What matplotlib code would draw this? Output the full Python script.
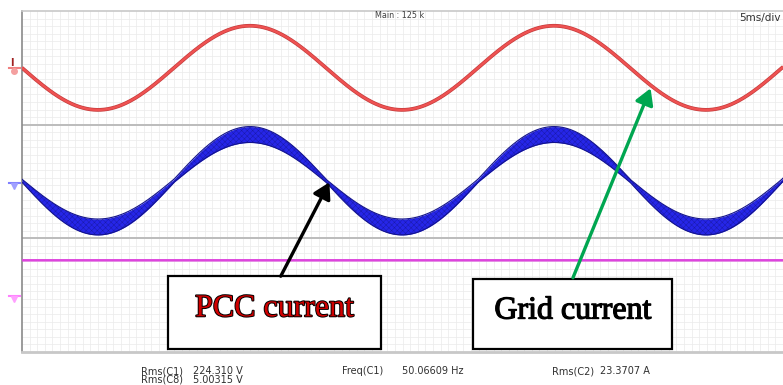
import numpy as np
import matplotlib
matplotlib.use("Agg")
import matplotlib.pyplot as plt
from matplotlib.patches import Rectangle
import matplotlib.patheffects as pe

plt.rcParams["hatch.linewidth"] = 0.35

# ---- measured channel settings ----
freq_hz = 50.06609          # Freq(C1)
time_span_ms = 50.0         # 10 div x 5 ms/div
y_rows = 45                 # screen height in minor grid rows
band_edges = [15, 30]       # separators between the three channel bands

# grid current (C1, red)
grid_offset = 37.5
grid_amp = 5.55
# PCC current (C2, blue) with switching ripple band
pcc_offset = 22.6
pcc_amp = 6.1
pcc_ripple_min = 0.2
pcc_ripple_max = 1.05
# C8 DC trace (magenta)
c8_level = 12.1

# readouts
readouts = [
    ("Rms(C1)", "224.310 V"),
    ("Rms(C8)", "5.00315 V"),
    ("Freq(C1)", "50.06609 Hz"),
    ("Rms(C2)", "23.3707 A"),
]

W, H = 783, 385
fig = plt.figure(figsize=(W / 100, H / 100), dpi=100)
ax = fig.add_axes([22 / W, 33 / H, 761 / W, 341 / H])
ax.set_xlim(0, time_span_ms)
ax.set_ylim(0, y_rows)

# fine screen grid
for xv in np.arange(0.5, time_span_ms, 0.5):
    ax.axvline(xv, color="#ececec", lw=0.55, zorder=0)
for yv in np.arange(1, y_rows, 1):
    ax.axhline(yv, color="#ececec", lw=0.55, zorder=0)
for yb in band_edges:
    ax.axhline(yb, color="#bcbcbc", lw=1.4, zorder=1)

ax.set_xticks([])
ax.set_yticks([])
for s in ax.spines.values():
    s.set_color("#c8c8c8")
    s.set_linewidth(1.2)
ax.spines["left"].set_color("#8a8a8a")
ax.spines["bottom"].set_linewidth(2.0)
ax.spines["right"].set_visible(False)

t = np.linspace(0, time_span_ms, 6000)
phase = np.sin(2 * np.pi * freq_hz * t / 1000.0)

# grid current
grid_i = grid_offset - grid_amp * phase
ax.plot(t, grid_i, color="#c43c3c", lw=2.7, zorder=3, solid_capstyle="butt")
ax.plot(t, grid_i, color="#ef5252", lw=1.7, zorder=3)

# PCC current: ripple band widens with |i|
pcc_i = pcc_offset - pcc_amp * phase
half = pcc_ripple_min + (pcc_ripple_max - pcc_ripple_min) * np.abs(phase)
ax.fill_between(t, pcc_i - half, pcc_i + half, color="#2626e8", lw=0, zorder=3)
ax.fill_between(t, pcc_i - half, pcc_i + half, facecolor="none",
                edgecolor="#10107a", hatch="xxxxxx", lw=0, alpha=0.55, zorder=3)
ax.plot(t, pcc_i + half, color="#14148c", lw=0.8, zorder=3)
ax.plot(t, pcc_i - half, color="#14148c", lw=0.8, zorder=3)

# C8 DC level
ax.plot(t, np.full_like(t, c8_level), color="#dd44dd", lw=1.8, zorder=3)

# callout boxes
box_kw = dict(facecolor="white", edgecolor="black", lw=1.6, zorder=5)
ax.add_patch(Rectangle((9.58, 0.4), 14.02, 9.6, **box_kw))
ax.add_patch(Rectangle((29.66, 0.4), 13.04, 9.2, **box_kw))

ax.text(16.6, 5.7, "PCC current", family="Liberation Serif", fontsize=23,
        color="#d00000", ha="center", va="center", zorder=6,
        path_effects=[pe.withStroke(linewidth=1.4, foreground="black")])
ax.text(36.2, 5.4, "Grid current", family="Liberation Serif", fontsize=23,
        color="black", ha="center", va="center", zorder=6,
        path_effects=[pe.withStroke(linewidth=0.9, foreground="black")])

arrow_style = "-|>,head_length=0.6,head_width=0.35"
ax.annotate("", xy=(20.2, 22.4), xytext=(17.0, 10.0),
            arrowprops=dict(arrowstyle=arrow_style, color="black", lw=2.4,
                            mutation_scale=16, shrinkA=0, shrinkB=0), zorder=7)
ax.annotate("", xy=(41.3, 34.8), xytext=(36.2, 9.8),
            arrowprops=dict(arrowstyle=arrow_style, color="#00a650", lw=2.4,
                            mutation_scale=16, shrinkA=0, shrinkB=0), zorder=7)

# scope header text
def ftext(x, y, s, **kw):
    fig.text(x / W, 1 - y / H, s, **kw)

ftext(375, 16, "Main : 125 k", fontsize=5.8, color="#404040", va="center")
ftext(781, 18, "5ms/div", fontsize=7.5, color="#303030", va="center", ha="right")

# channel ground markers on the left edge
ftext(10, 63, "I", fontsize=7, color="#a02020", fontweight="bold", va="center")
fig.lines.append(plt.Line2D([9 / W, 20 / W], [1 - 68 / H, 1 - 68 / H],
                            transform=fig.transFigure, color="#f08080", lw=1.5))
fig.lines.append(plt.Line2D([14 / W], [1 - 71 / H], transform=fig.transFigure,
                            marker="o", ms=4, color="#f4a0a0", lw=0))
fig.lines.append(plt.Line2D([9 / W, 20 / W], [1 - 183 / H, 1 - 183 / H],
                            transform=fig.transFigure, color="#8080ff", lw=1.5))
fig.lines.append(plt.Line2D([14 / W], [1 - 186 / H], transform=fig.transFigure,
                            marker="v", ms=4, color="#a0a0ff", lw=0))
fig.lines.append(plt.Line2D([9 / W, 20 / W], [1 - 296 / H, 1 - 296 / H],
                            transform=fig.transFigure, color="#ff80ff", lw=1.5))
fig.lines.append(plt.Line2D([14 / W], [1 - 299 / H], transform=fig.transFigure,
                            marker="v", ms=4, color="#ffa0ff", lw=0))

# readouts beneath the screen
pos = [(141, 193, 371), (141, 193, 380), (342, 402, 371), (552, 600, 371)]
for (name, val), (xn, xv, yy) in zip(readouts, pos):
    ftext(xn, yy, name, fontsize=7, color="#303030", va="center")
    ftext(xv, yy, val, fontsize=7, color="#303030", va="center")

fig.savefig("out.png", dpi=100)
